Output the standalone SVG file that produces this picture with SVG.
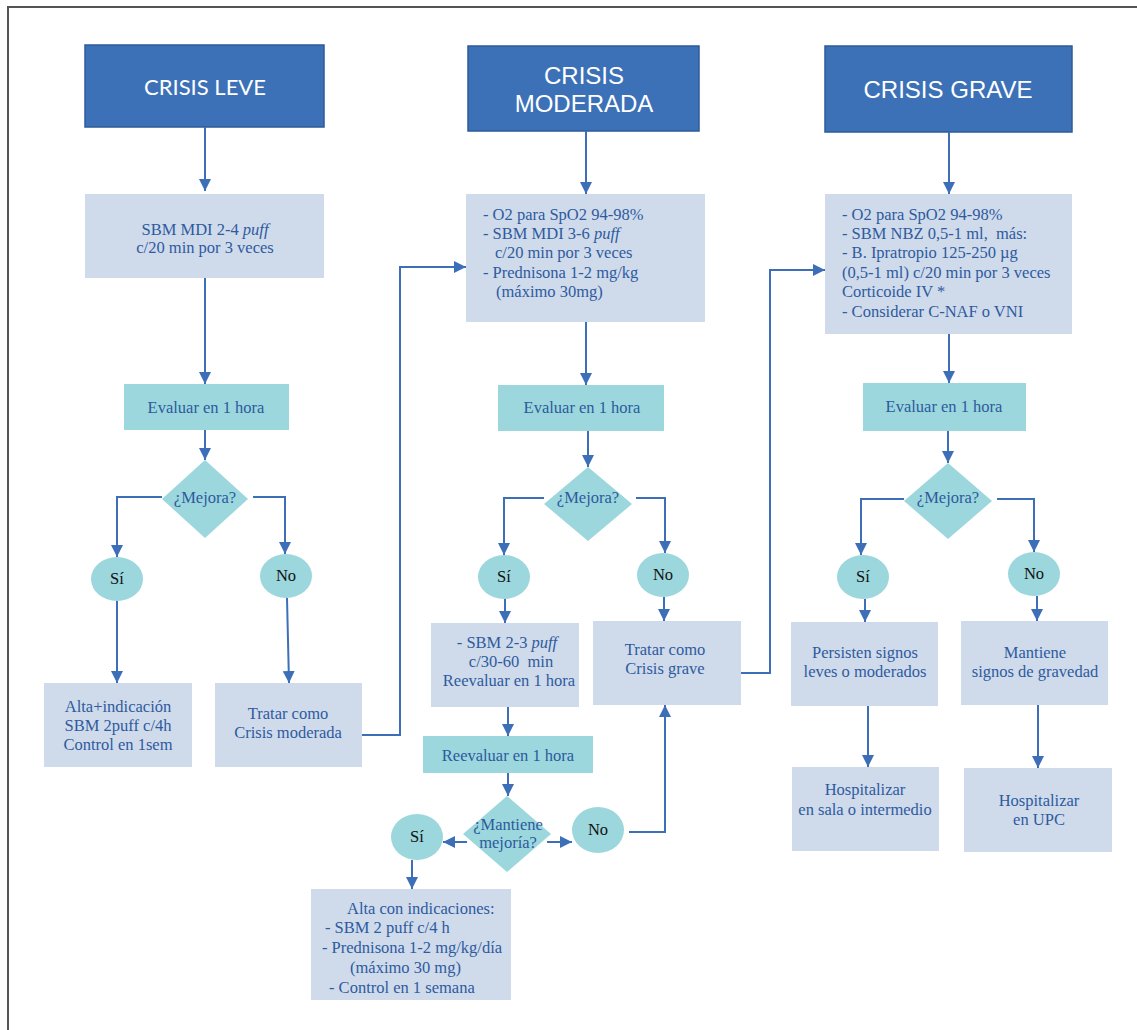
<svg xmlns="http://www.w3.org/2000/svg" width="1137" height="1030" viewBox="0 0 1137 1030">
<defs>
<marker id="ah" markerUnits="userSpaceOnUse" markerWidth="13" markerHeight="13" refX="12" refY="6" orient="auto">
<path d="M0,0 L12,6 L0,12 z" fill="#3d6fb8"/>
</marker>
<style>
.hdr{fill:#3c71b8;stroke:#2d5b99;stroke-width:1.5}
.hdrt{fill:#fff;font-family:"Liberation Sans",Arial,sans-serif;font-size:24px;text-anchor:middle}
.box{fill:#cfdbeb}
.teal{fill:#9bd7dc}
.t{fill:#2e5a9e;font-family:"Liberation Serif","Times New Roman",serif;font-size:16.5px}
.c{text-anchor:middle}
.yn{fill:#111;font-family:"Liberation Serif","Times New Roman",serif;font-size:16.5px;text-anchor:middle}
.con{fill:none;stroke:#3d6fb8;stroke-width:2;marker-end:url(#ah)}
</style>
</defs>
<rect width="1137" height="1030" fill="#fff"/>
<path d="M8,1030 V7 H1137" fill="none" stroke="#555" stroke-width="2"/>

<g id="h-leve"><rect class="hdr" x="85" y="45" width="239" height="82"/><text class="hdrt" x="205" y="95" style="font-family:Lato,'Open Sans',sans-serif;font-size:22px">CRISIS LEVE</text></g>
<g id="h-mod"><rect class="hdr" x="468" y="46" width="231" height="85"/><text class="hdrt" x="584" y="84">CRISIS</text><text class="hdrt" x="584" y="112">MODERADA</text></g>
<g id="h-grave"><rect class="hdr" x="825" y="46" width="247" height="86"/><text class="hdrt" x="948" y="98">CRISIS GRAVE</text></g>

<g id="leve-tx"><rect class="box" x="85" y="194" width="239" height="84"/><text class="t c" x="205" y="235">SBM MDI 2-4 <tspan font-style="italic">puff</tspan></text><text class="t c" x="205" y="253">c/20 min por 3 veces</text></g>
<g id="leve-eval"><rect class="teal" x="124" y="384" width="165" height="46"/><text class="t c" x="206" y="413">Evaluar en 1 hora</text></g>
<g id="leve-dec"><path class="teal" d="M205,460 L248,499 L205,538 L162,499 z"/><text class="t c" x="205" y="503">¿Mejora?</text></g>
<g id="leve-si"><ellipse class="teal" cx="117" cy="579" rx="26" ry="22"/><text class="yn" x="117" y="584">Sí</text></g>
<g id="leve-no"><ellipse class="teal" cx="286" cy="576" rx="26" ry="22"/><text class="yn" x="286" y="581">No</text></g>
<g id="leve-alta"><rect class="box" x="44" y="683" width="148" height="84"/><text class="t c" x="118" y="712">Alta+indicación</text><text class="t c" x="118" y="731">SBM 2puff c/4h</text><text class="t c" x="118" y="750">Control en 1sem</text></g>
<g id="leve-tratar"><rect class="box" x="215" y="683" width="147" height="84"/><text class="t c" x="288" y="719">Tratar como</text><text class="t c" x="288" y="738">Crisis moderada</text></g>

<g id="mod-tx"><rect class="box" x="466" y="194" width="239" height="128"/>
<text class="t" x="483" y="220">- O2 para SpO2 94-98%</text>
<text class="t" x="483" y="239">- SBM MDI 3-6 <tspan font-style="italic">puff</tspan></text>
<text class="t" x="495" y="258">c/20 min por 3 veces</text>
<text class="t" x="483" y="278">- Prednisona 1-2 mg/kg</text>
<text class="t" x="496" y="297">(máximo 30mg)</text></g>
<g id="mod-eval"><rect class="teal" x="498" y="385" width="166" height="46"/><text class="t c" x="582" y="413">Evaluar en 1 hora</text></g>
<g id="mod-dec"><path class="teal" d="M588,467 L632,504 L588,541 L544,504 z"/><text class="t c" x="588" y="503">¿Mejora?</text></g>
<g id="mod-si"><ellipse class="teal" cx="504" cy="577" rx="26" ry="22"/><text class="yn" x="504" y="582">Sí</text></g>
<g id="mod-no"><ellipse class="teal" cx="663" cy="575" rx="26" ry="22"/><text class="yn" x="663" y="580">No</text></g>
<g id="mod-sbm"><rect class="box" x="431" y="623" width="148" height="84"/><text class="t c" x="507" y="648">- SBM 2-3 <tspan font-style="italic">puff</tspan></text><text class="t c" x="511" y="667" xml:space="preserve">c/30-60  min</text><text class="t c" x="509" y="686">Reevaluar en 1 hora</text></g>
<g id="mod-tratar"><rect class="box" x="593" y="621" width="148" height="84"/><text class="t c" x="665" y="655">Tratar como</text><text class="t c" x="665" y="674">Crisis grave</text></g>
<g id="mod-reeval"><rect class="teal" x="423" y="736" width="170" height="37"/><text class="t c" x="508" y="761">Reevaluar en 1 hora</text></g>
<g id="mod-dec2"><path class="teal" d="M507,796 L551,834 L507,872 L463,834 z"/><text class="t c" x="508" y="830">¿Mantiene</text><text class="t c" x="508" y="848">mejoría?</text></g>
<g id="mod-si2"><ellipse class="teal" cx="417" cy="837" rx="26" ry="23"/><text class="yn" x="417" y="842">Sí</text></g>
<g id="mod-no2"><ellipse class="teal" cx="598" cy="830" rx="26" ry="23"/><text class="yn" x="598" y="835">No</text></g>
<g id="mod-alta"><rect class="box" x="311" y="889" width="200" height="111"/>
<text class="t" x="347" y="914">Alta con indicaciones:</text>
<text class="t" x="325" y="933">- SBM 2 puff c/4 h</text>
<text class="t" x="322" y="953">- Prednisona 1-2 mg/kg/día</text>
<text class="t" x="350" y="973">(máximo 30 mg)</text>
<text class="t" x="329" y="993">- Control en 1 semana</text></g>

<g id="grave-tx"><rect class="box" x="825" y="194" width="247" height="140"/>
<text class="t" x="842" y="220">- O2 para SpO2 94-98%</text>
<text class="t" x="842" y="239" xml:space="preserve">- SBM NBZ 0,5-1 ml,  más:</text>
<text class="t" x="842" y="258">- B. Ipratropio 125-250 µg</text>
<text class="t" x="842" y="278">(0,5-1 ml) c/20 min por 3 veces</text>
<text class="t" x="842" y="297">Corticoide IV *</text>
<text class="t" x="842" y="317">- Considerar C-NAF o VNI</text></g>
<g id="grave-eval"><rect class="teal" x="863" y="383" width="163" height="48"/><text class="t c" x="944" y="412">Evaluar en 1 hora</text></g>
<g id="grave-dec"><path class="teal" d="M948,463 L992,501 L948,539 L904,501 z"/><text class="t c" x="948" y="503">¿Mejora?</text></g>
<g id="grave-si"><ellipse class="teal" cx="863" cy="577" rx="26" ry="22"/><text class="yn" x="863" y="582">Sí</text></g>
<g id="grave-no"><ellipse class="teal" cx="1034" cy="574" rx="26" ry="22"/><text class="yn" x="1034" y="579">No</text></g>
<g id="grave-pers"><rect class="box" x="791" y="622" width="147" height="84"/><text class="t c" x="865" y="658">Persisten signos</text><text class="t c" x="865" y="677">leves o moderados</text></g>
<g id="grave-mant"><rect class="box" x="961" y="621" width="147" height="84"/><text class="t c" x="1035" y="658">Mantiene</text><text class="t c" x="1035" y="677">signos de gravedad</text></g>
<g id="grave-hosp"><rect class="box" x="792" y="767" width="147" height="84"/><text class="t c" x="865" y="795">Hospitalizar</text><text class="t c" x="865" y="815">en sala o intermedio</text></g>
<g id="grave-upc"><rect class="box" x="964" y="768" width="148" height="84"/><text class="t c" x="1039" y="806">Hospitalizar</text><text class="t c" x="1039" y="825">en UPC</text></g>

<g id="connectors">
<path class="con" d="M205,127 V191"/>
<path class="con" d="M586,131 V194"/>
<path class="con" d="M949,132 V194"/>
<path class="con" d="M205,278 V384"/>
<path class="con" d="M205,430 V460"/>
<path class="con" d="M162,497 H117 V557"/>
<path class="con" d="M253,497 H285 V554"/>
<path class="con" d="M117,601 V683"/>
<path class="con" d="M287,598 L289,683"/>
<path class="con" d="M362,735 H400 V267 H466"/>
<path class="con" d="M586,322 V385"/>
<path class="con" d="M588,431 V467"/>
<path class="con" d="M544,498 H504 V555"/>
<path class="con" d="M636,498 H665 V553"/>
<path class="con" d="M505,599 V623"/>
<path class="con" d="M664,597 V621"/>
<path class="con" d="M741,673 H770 V270 H825"/>
<path class="con" d="M508,707 V736"/>
<path class="con" d="M508,773 V796"/>
<path class="con" d="M467,842 H443"/>
<path class="con" d="M547,842 H572"/>
<path class="con" d="M629,832 H665 V705"/>
<path class="con" d="M412,860 V889"/>
<path class="con" d="M949,334 V383"/>
<path class="con" d="M948,431 V463"/>
<path class="con" d="M904,499 H861 V555"/>
<path class="con" d="M997,499 H1034 V552"/>
<path class="con" d="M865,599 V622"/>
<path class="con" d="M1037,596 V621"/>
<path class="con" d="M868,706 V767"/>
<path class="con" d="M1038,705 V768"/>
</g>
</svg>
